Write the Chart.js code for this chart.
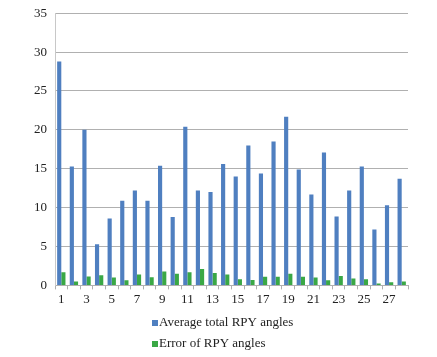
<!DOCTYPE html>
<html><head><meta charset="utf-8">
<script src="https://cdn.jsdelivr.net/npm/chart.js@4"></script>
<style>html,body{margin:0;padding:0;background:#fff;}#wrap{width:437px;height:357px;}</style>
</head><body><div id="wrap"><canvas id="c" width="437" height="357"></canvas></div>
<script>
const categories = ["1","2","3","4","5","6","7","8","9","10","11","12","13","14","15","16","17","18","19","20","21","22","23","24","25","26","27","28"];
const averageTotalRPY = [28.8,15.3,20.0,5.3,8.6,10.9,12.2,10.9,15.4,8.8,20.4,12.2,12.0,15.6,14.0,18.0,14.4,18.5,21.7,14.9,11.7,17.1,8.85,12.2,15.3,7.2,10.3,13.7];
const errorRPY = [1.7,0.5,1.15,1.3,1.0,0.65,1.4,1.05,1.8,1.5,1.7,2.1,1.6,1.4,0.8,0.7,1.1,1.1,1.5,1.1,1.0,0.65,1.2,0.9,0.8,0.25,0.4,0.5];
const seriesNames = ["Average total RPY angles","Error of RPY angles"];
const yTicks = [0,5,10,15,20,25,30,35];

const FONT = "'Liberation Serif', 'Times New Roman', serif";

const legendPlugin = {
  id: 'vlegend',
  afterDraw(chart) {
    const ctx = chart.ctx;
    ctx.save();
    ctx.font = "13px " + FONT;
    ctx.textBaseline = 'middle';
    ctx.textAlign = 'left';
    chart.data.datasets.forEach((ds, i) => {
      const y = 323 + i * 21;
      ctx.fillStyle = ds.backgroundColor;
      ctx.fillRect(152, y - 3, 6, 6);
      ctx.fillStyle = '#222';
      ctx.fillText(ds.label, 159, y);
    });
    ctx.restore();
  }
};

new Chart(document.getElementById('c'), {
  type: 'bar',
  data: {
    labels: categories,
    datasets: [
      { label: seriesNames[0], data: averageTotalRPY, backgroundColor: '#4f7fc0', categoryPercentage: 0.66, barPercentage: 1.0 },
      { label: seriesNames[1], data: errorRPY, backgroundColor: '#3aa845', categoryPercentage: 0.66, barPercentage: 1.0 }
    ]
  },
  options: {
    responsive: false,
    animation: false,
    layout: { padding: { left: 26, right: 29, top: 0, bottom: 48 } },
    plugins: { legend: { display: false }, tooltip: { enabled: false } },
    scales: {
      x: {
        offset: true,
        grid: { display: true, drawOnChartArea: false, drawTicks: true, tickLength: 4, color: '#b0b0b0', offset: true },
        border: { color: '#b0b0b0' },
        ticks: {
          autoSkip: false, maxRotation: 0, padding: 2, color: '#222',
          font: { family: FONT, size: 13 },
          callback: function(v, i) { return i % 2 === 0 ? categories[i] : ''; }
        }
      },
      y: {
        min: 0, max: 35,
        afterBuildTicks: (axis) => { axis.ticks = yTicks.map(v => ({ value: v })); },
        grid: { color: '#b0b0b0', drawTicks: false },
        border: { color: '#c8c8c8' },
        ticks: { padding: 8, color: '#222', font: { family: FONT, size: 13, lineHeight: 0.8 } }
      }
    }
  },
  plugins: [legendPlugin]
});
</script></body></html>
